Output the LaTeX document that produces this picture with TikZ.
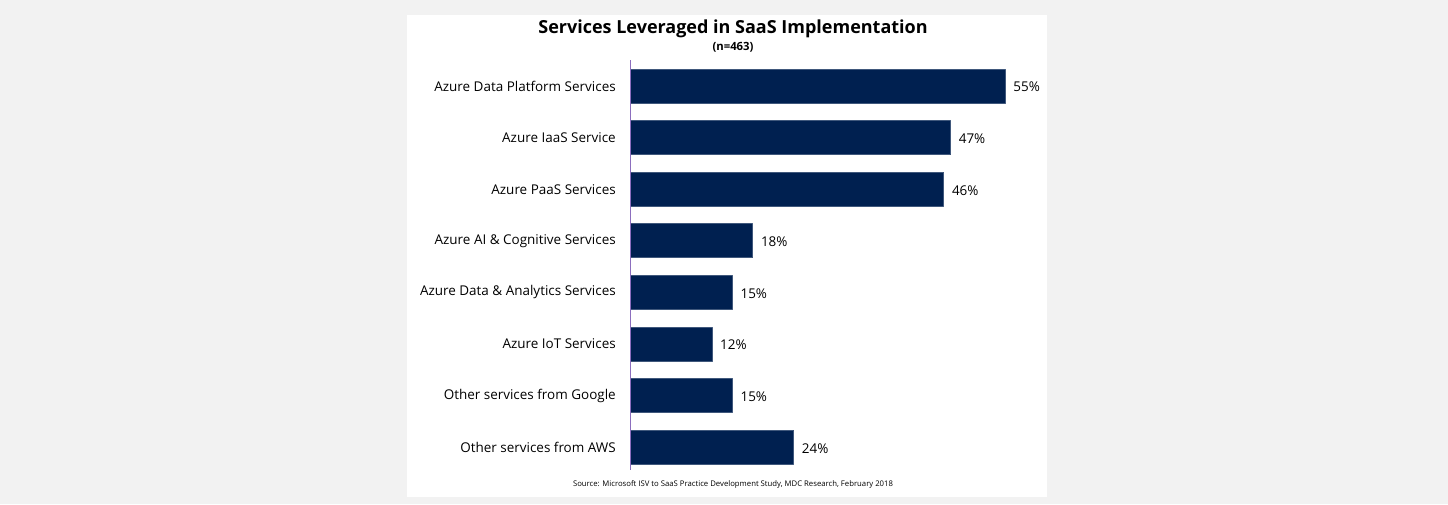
\documentclass[tikz,border=0pt]{standalone}
\usepackage{fontspec}
\setmainfont{Open Sans}
\definecolor{barnavy}{RGB}{0,32,80}
\definecolor{axisviolet}{RGB}{140,110,190}
\definecolor{pagegray}{RGB}{242,242,242}
\begin{document}
\begin{tikzpicture}[x=0.75pt,y=-0.75pt,line join=round,
  font=\fontsize{10.1}{12}\selectfont,
  declare function={w=6.82;xa=630;ya=86;dy=51.6;h=17;}]
  \tikzset{barlab/.style={left,inner sep=0pt},
           barval/.style={right,inner sep=0pt}}
  % background and panel
  \fill[pagegray] (0,0) rectangle (1448,504);
  \fill[white] (407,15) rectangle (1047,497);
  \node[font=\bfseries\fontsize{13.5}{16}\selectfont] (title) at (733,29) {Services Leveraged in SaaS Implementation};
  \node[font=\bfseries\fontsize{8.5}{10}\selectfont] (nsize) at (733,47) {(n=463)};
  % bars
  \foreach \lab/\v [count=\i] in {Azure Data Platform Services/55,Azure IaaS Service/47,Azure PaaS Services/46,Azure AI \& Cognitive Services/18,Azure Data \& Analytics Services/15,Azure IoT Services/12,Other services from Google/15,Other services from AWS/24}
  {
    \fill[barnavy,draw=barnavy!75!white,line width=0.5pt] (xa,{ya+dy*(\i-1)-h}) rectangle ({xa+w*\v},{ya+dy*(\i-1)+h});
    \node[barlab] (lab\i) at (616,{ya+dy*(\i-1)}) {\lab};
    \node[barval] (val\i) at ({xa+w*\v+8},{ya+dy*(\i-1)+1}) {\v\%};
  }
  \draw[axisviolet,line width=0.6pt] (xa,60) -- (xa,470);
  \node[font=\fontsize{5.8}{7}\selectfont] (src) at (733,484) {Source: Microsoft ISV to SaaS Practice Development Study, MDC Research, February 2018};
\end{tikzpicture}
\end{document}
